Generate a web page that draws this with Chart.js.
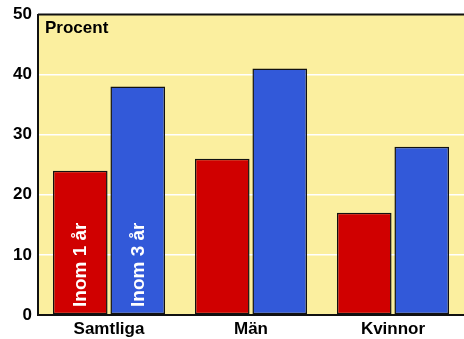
<!DOCTYPE html>
<html>
<head>
<meta charset="utf-8">
<script src="https://cdn.jsdelivr.net/npm/chart.js@4"></script>
<style>
  html, body { margin: 0; padding: 0; background: #fff; }
  #wrap { width: 464px; height: 339px; }
</style>
</head>
<body>
<div id="wrap"><canvas id="chart"></canvas></div>
<script>
const categories = ["Samtliga", "Män", "Kvinnor"];
const seriesNames = ["Inom 1 år", "Inom 3 år"];
const within1Year = [24, 26, 17];
const within3Years = [38, 41, 28];
const yTicks = [0, 10, 20, 30, 40, 50];

const colors = {
    red: "#d00000",
    blue: "#3259d9",
    bg: "#fbef9f",
    grid: "#ffffff",
    border: "#111111",
};

const font = "'Liberation Sans', Arial, sans-serif";

// yellow plot background, top border, "Procent" and the rotated series labels
const decorations = {
    id: "decorations",
    beforeDraw(chart) {
	const { ctx, chartArea: a } = chart;
	ctx.save();
	ctx.fillStyle = colors.bg;
	ctx.fillRect(a.left, a.top, a.right - a.left, a.bottom - a.top);
	ctx.restore();
    },
    afterDraw(chart) {
	const { ctx, chartArea: a } = chart;
	ctx.save();
	ctx.strokeStyle = colors.border;
	ctx.lineWidth = 2;
	ctx.beginPath();
	ctx.moveTo(a.left, a.top);
	ctx.lineTo(a.right, a.top);
	ctx.stroke();

	ctx.fillStyle = "#000";
	ctx.font = "bold 17px " + font;
	ctx.textBaseline = "top";
	ctx.textAlign = "left";
	ctx.fillText("Procent", a.left + 7, a.top + 5);

	ctx.fillStyle = "#fff";
	ctx.font = "bold 19px " + font;
	ctx.textAlign = "left";
	ctx.textBaseline = "middle";
	seriesNames.forEach((name, i) => {
	    const bar = chart.getDatasetMeta(i).data[0];
	    ctx.save();
	    ctx.translate(bar.x, a.bottom - 8);
	    ctx.rotate(-Math.PI / 2);
	    ctx.fillText(name, 0, 1);
	    ctx.restore();
	});
	ctx.restore();
    }
};

new Chart(document.getElementById("chart"), {
    type: "bar",
    data: {
	labels: categories,
	datasets: [
	    { label: seriesNames[0], data: within1Year, backgroundColor: colors.red },
	    { label: seriesNames[1], data: within3Years, backgroundColor: colors.blue },
	].map(ds => Object.assign(ds, {
	    borderColor: colors.border,
	    borderWidth: 1.5,
	    borderSkipped: false,
	    categoryPercentage: 0.81,
	    barPercentage: 0.95,
	})),
    },
    options: {
	responsive: true,
	maintainAspectRatio: false,
	animation: false,
	layout: { padding: { top: 13, right: 0, left: 0, bottom: 0 } },
	plugins: {
	    legend: { display: false },
	    tooltip: { enabled: false },
	},
	scales: {
	    x: {
		grid: { display: false, drawTicks: false, tickLength: 0 },
		border: { display: true, color: colors.border, width: 2 },
		ticks: {
		    color: "#000",
		    padding: 4,
		    font: { family: font, size: 17, weight: "bold" },
		},
		afterFit: s => { s.height = 24; },
	    },
	    y: {
		min: 0,
		max: 50,
		afterBuildTicks: s => { s.ticks = yTicks.map(v => ({ value: v })); },
		grid: {
		    drawTicks: false,
		    lineWidth: 1.5,
		    color: c => (c.tick.value === 0 || c.tick.value === 50) ? "rgba(0,0,0,0)" : colors.grid,
		},
		border: { display: true, color: colors.border, width: 2 },
		ticks: {
		    color: "#000",
		    padding: 6,
		    font: { family: font, size: 17, weight: "bold", lineHeight: 1 },
		},
		afterFit: s => { s.width = 38; },
	    },
	},
    },
    plugins: [decorations],
});
</script>
</body>
</html>
